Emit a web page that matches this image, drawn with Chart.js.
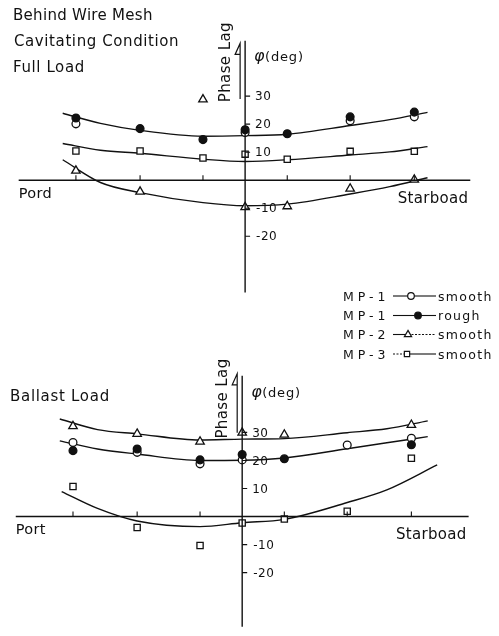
<!DOCTYPE html>
<html>
<head>
<meta charset="utf-8">
<title>Phase lag behind wire mesh</title>
<script src="https://cdn.jsdelivr.net/npm/chart.js@4/dist/chart.umd.min.js"></script>
<style>
  html, body { margin: 0; padding: 0; background: #fff; }
  #wrap { position: relative; width: 499px; height: 636px; overflow: hidden; }
  #wrap canvas { position: absolute; left: 0; top: 0; }
</style>
</head>
<body>
<div id="wrap">
  <canvas id="fullLoad" width="499" height="636"></canvas>
  <canvas id="ballastLoad" width="499" height="636"></canvas>
</div>
<script>
// Measuring stations across the propeller disc (port negative, starboard positive)
const positions = [-2.69, -1.67, -0.67, 0, 0.67, 1.67, 2.69];
const tickValues = [30, 20, 10, -10, -20];

// Full load, cavitating: phase lag in degrees
const fullMp1Smooth = [20.1, null, null, 17.0, null, 21.2, 22.6];
const fullMp1Rough  = [22.2, 18.4, 14.5, 18.0, 16.6, 22.6, 24.3];
const fullMp2Smooth = [3.4, -4.1, 28.8, -9.6, -9.3, -3.0, 0.2];
const fullMp3Smooth = [10.4, 10.4, 7.9, 9.3, 7.5, 10.3, 10.3];

// Faired curves, full load
const fullCurveX = [-2.9, -2.3, -1.67, -0.67, 0, 0.67, 1.67, 2.3, 2.9];
const fullFitMp1 = [23.9, 20.3, 17.8, 15.7, 15.9, 16.4, 19.5, 21.6, 24.2];
const fullFitMp2 = [7.3, -0.8, -4.4, -8.0, -9.1, -8.5, -4.9, -2.3, 0.9];
const fullFitMp3 = [13.1, 10.7, 9.6, 7.5, 6.7, 7.3, 9.0, 10.1, 12.0];

// Ballast load: phase lag in degrees
const ballastMp1Smooth = [26.4, 22.9, 18.8, 20.2, null, 25.5, 27.9];
const ballastMp1Rough  = [23.5, 24.1, 20.2, 22.1, 20.6, null, 25.6];
const ballastMp2Smooth = [32.2, 29.5, 26.7, 29.9, 29.2, null, 32.7];
const ballastMp3Smooth = [10.7, -3.9, -10.3, -2.3, -0.9, 1.9, 20.8];

// Faired curves, ballast load
const ballastCurveX = [-2.9, -2.3, -1.67, -0.67, 0, 0.67, 1.67, 2.3, 2.95];
const ballastFitMp1 = [27.0, 24.1, 22.3, 20.0, 20.1, 20.9, 24.2, 26.3, 28.5];
const ballastFitMp2 = [34.8, 31.0, 29.5, 27.3, 27.6, 27.8, 29.9, 31.3, 34.1];
const ballastFitMp3X = [-2.87, -2.3, -1.67, -0.67, 0, 0.67, 1.67, 2.3, 3.1];
const ballastFitMp3 = [8.9, 2.9, -1.6, -3.6, -2.2, -1.0, 5.0, 9.5, 18.4];

// Legend entries
const seriesNames = ['MP-1', 'MP-1', 'MP-2', 'MP-3'];
const surfaceNames = ['smooth', 'rough', 'smooth', 'smooth'];

const INK = '#111';
const FONT = '"DejaVu Sans", sans-serif';

const markerStyles = [
  { pointStyle: 'circle', fill: INK, radius: 3.9 },     // MP-1 rough
  { pointStyle: 'circle', fill: '#fff', radius: 3.9 },  // MP-1 smooth
  { pointStyle: 'triangle', fill: '#fff', radius: 4.9 },// MP-2 smooth
  { pointStyle: 'rect', fill: '#fff', radius: 4.4 }     // MP-3 smooth
];

function markerSet(label, values, st) {
  const pts = [];
  positions.forEach((p, i) => { if (values[i] !== null) pts.push({ x: p, y: values[i] }); });
  return {
    label, data: pts, showLine: false,
    pointStyle: st.pointStyle, pointRadius: st.radius,
    pointBackgroundColor: st.fill, pointBorderColor: INK, pointBorderWidth: 1.3,
    order: 1
  };
}

function fitSet(xs, ys) {
  return {
    label: 'fit', data: xs.map((x, i) => ({ x, y: ys[i] })),
    showLine: true, borderColor: INK, borderWidth: 1.4, pointRadius: 0,
    cubicInterpolationMode: 'monotone', fill: false, order: 2
  };
}

function text(ctx, str, x, y, size, opts = {}) {
  ctx.save();
  ctx.font = (opts.style || '') + ' ' + size + 'px ' + FONT;
  ctx.fillStyle = INK;
  ctx.textAlign = opts.align || 'left';
  ctx.textBaseline = opts.baseline || 'alphabetic';
  ctx.letterSpacing = (opts.spacing || 0) + 'px';
  ctx.fillText(str, x, y);
  ctx.restore();
}

// Cross-shaped axes through the origin, with the phase-lag arrow and labels
function axesPlugin(cfg) {
  return {
    id: 'centerAxes',
    afterDatasetsDraw(chart) {
      const { ctx } = chart;
      const xs = chart.scales.x, ys = chart.scales.y;
      const x0 = xs.getPixelForValue(0), y0 = ys.getPixelForValue(0);
      ctx.save();
      ctx.strokeStyle = INK;
      ctx.lineCap = 'butt';

      // main axis lines
      ctx.lineWidth = 1.4;
      ctx.beginPath();
      ctx.moveTo(xs.getPixelForValue(cfg.xFrom), y0);
      ctx.lineTo(xs.getPixelForValue(cfg.xTo), y0);
      ctx.moveTo(x0, ys.getPixelForValue(cfg.yTop));
      ctx.lineTo(x0, ys.getPixelForValue(cfg.yBottom));
      ctx.stroke();

      // station ticks along the horizontal axis
      ctx.lineWidth = 1.1;
      ctx.beginPath();
      positions.forEach(p => {
        if (p === 0) return;
        const px = xs.getPixelForValue(p);
        ctx.moveTo(px, y0);
        ctx.lineTo(px, y0 - 5);
      });
      // degree ticks on the vertical axis
      tickValues.forEach(v => {
        const py = ys.getPixelForValue(v);
        ctx.moveTo(x0, py);
        ctx.lineTo(x0 + 5, py);
      });
      ctx.stroke();

      tickValues.forEach(v => {
        const py = ys.getPixelForValue(v);
        const lx = v < 0 ? x0 + 11 : x0 + 10;
        text(ctx, String(v), lx, py + 1, 12, { baseline: 'middle', spacing: 0.5 });
      });

      // phase lag arrow beside the axis
      const ax = x0 - 5;
      const aTop = ys.getPixelForValue(cfg.arrowTop);
      const aBot = ys.getPixelForValue(cfg.arrowBottom);
      ctx.lineWidth = 1.2;
      ctx.beginPath();
      ctx.moveTo(ax, aBot);
      ctx.lineTo(ax, aTop);
      ctx.lineTo(ax - 5, aTop + 11);
      ctx.lineTo(ax, aTop + 11);
      ctx.stroke();

      // rotated axis title
      ctx.save();
      ctx.translate(x0 - 19.5, ys.getPixelForValue(cfg.titleAt));
      ctx.rotate(-Math.PI / 2);
      text(ctx, 'Phase Lag', 0, 0, 15, { align: 'center', baseline: 'middle', spacing: 0.4 });
      ctx.restore();

      const phiY = ys.getPixelForValue(cfg.unitAt);
      text(ctx, 'φ', x0 + 9, phiY, 16, { style: 'italic' });
      text(ctx, '(deg)', x0 + 20, phiY, 13, { spacing: 0.8 });

      // side labels
      text(ctx, cfg.portLabel, xs.getPixelForValue(cfg.xFrom), y0 + 17.5, 14.5, { spacing: 0.3 });
      text(ctx, 'Starboad', xs.getPixelForValue(cfg.xTo) - 2, y0 + 22.5, 15, { align: 'right', spacing: 0.3 });

      cfg.titles.forEach(t => text(ctx, t.str, t.x, t.y, 15, { spacing: t.spacing }));

      if (cfg.legend) drawLegend(ctx);
      ctx.restore();
    }
  };
}

function drawLegend(ctx) {
  const legendOrder = [1, 0, 2, 3]; // smooth MP-1, rough MP-1, MP-2, MP-3
  const rowY = [296, 315.5, 334.5, 354];
  const markerX = [411, 418, 408, 407];
  const dashes = [[[], []], [[], []], [[], [2, 1.5]], [[2, 1.5], []]];
  seriesNames.forEach((name, i) => {
    const y = rowY[i];
    text(ctx, name, 343, y + 4.5, 12.5, { spacing: 4 });
    text(ctx, surfaceNames[i], 438, y + 4.5, 12.5, { spacing: 1.3 });
    const mx = markerX[i];
    ctx.save();
    ctx.strokeStyle = INK;
    ctx.lineWidth = 1.1;
    ctx.setLineDash(dashes[i][0]);
    ctx.beginPath(); ctx.moveTo(393, y); ctx.lineTo(mx, y); ctx.stroke();
    ctx.setLineDash(dashes[i][1]);
    ctx.beginPath(); ctx.moveTo(mx, y); ctx.lineTo(436, y); ctx.stroke();
    ctx.setLineDash([]);
    const st = markerStyles[legendOrder[i]];
    ctx.fillStyle = st.fill;
    ctx.lineWidth = 1.2;
    Chart.helpers.drawPoint(ctx, { pointStyle: st.pointStyle, radius: st.radius * 0.85, borderWidth: 1.2, rotation: 0 }, mx, y);
    ctx.restore();
  });
}

function makePanel(canvasId, sets, scaleRange, axesCfg) {
  return new Chart(document.getElementById(canvasId), {
    type: 'scatter',
    data: { datasets: sets },
    options: {
      responsive: false,
      animation: false,
      devicePixelRatio: 1,
      layout: { padding: 0 },
      plugins: { legend: { display: false }, tooltip: { enabled: false } },
      scales: {
        x: { type: 'linear', display: false, min: scaleRange.xMin, max: scaleRange.xMax },
        y: { type: 'linear', display: false, min: scaleRange.yMin, max: scaleRange.yMax }
      }
    },
    plugins: [axesPlugin(axesCfg)]
  });
}

makePanel('fullLoad', [
  markerSet('MP-1 rough', fullMp1Rough, markerStyles[0]),
  markerSet('MP-1 smooth', fullMp1Smooth, markerStyles[1]),
  markerSet('MP-2 smooth', fullMp2Smooth, markerStyles[2]),
  markerSet('MP-3 smooth', fullMp3Smooth, markerStyles[3]),
  fitSet(fullCurveX, fullFitMp1),
  fitSet(fullCurveX, fullFitMp2),
  fitSet(fullCurveX, fullFitMp3)
], { xMin: -245 / 64.5, xMax: 254 / 64.5, yMin: -458.5 / 2.86, yMax: 177.5 / 2.86 }, {
  xFrom: -3.6, xTo: 3.58, yTop: 49.7, yBottom: -40,
  arrowTop: 48.8, arrowBottom: 29, titleAt: 42.1, unitAt: 42.6,
  portLabel: 'Pord',
  legend: true,
  titles: [
    { str: 'Behind Wire Mesh', x: 13, y: 19.5, spacing: 0.3 },
    { str: 'Cavitating Condition', x: 14, y: 45.5, spacing: 0.6 },
    { str: 'Full Load', x: 13, y: 71.5, spacing: 0.6 }
  ]
});

makePanel('ballastLoad', [
  markerSet('MP-1 rough', ballastMp1Rough, markerStyles[0]),
  markerSet('MP-1 smooth', ballastMp1Smooth, markerStyles[1]),
  markerSet('MP-2 smooth', ballastMp2Smooth, markerStyles[2]),
  markerSet('MP-3 smooth', ballastMp3Smooth, markerStyles[3]),
  fitSet(ballastCurveX, ballastFitMp1),
  fitSet(ballastCurveX, ballastFitMp2),
  fitSet(ballastFitMp3X, ballastFitMp3)
], { xMin: -242 / 64.5, xMax: 257 / 64.5, yMin: -115.5 / 2.86, yMax: 520.5 / 2.86 }, {
  xFrom: -3.6, xTo: 3.6, yTop: 50.2, yBottom: -39.3,
  arrowTop: 50.9, arrowBottom: 29.9, titleAt: 42.1, unitAt: 42.8,
  portLabel: 'Port',
  legend: false,
  titles: [
    { str: 'Ballast Load', x: 10, y: 400.5, spacing: 0.7 }
  ]
});
</script>
</body>
</html>
